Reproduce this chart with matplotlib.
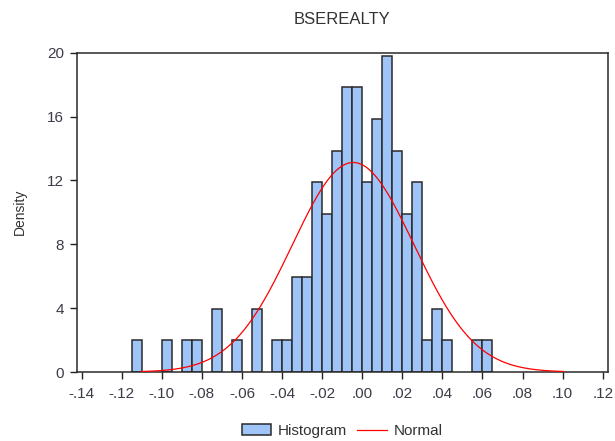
import matplotlib
matplotlib.use("Agg")
import matplotlib.pyplot as plt
import numpy as np
from matplotlib.ticker import FuncFormatter, FixedLocator
from matplotlib.patches import Patch
from matplotlib.lines import Line2D

plt.rcParams['font.family'] = ['Liberation Sans', 'DejaVu Sans']

# ---- data ----
title = "BSEREALTY"
bin_start = -0.115
bin_width = 0.005
counts = [1, 0, 0, 1, 0, 1, 1, 0, 2, 0, 1, 0, 2, 0, 1, 1,
          3, 3, 6, 5, 7, 9, 9, 6, 8, 10, 7, 5, 6, 1, 2, 1, 0, 0, 1, 1]
normal_mean = -0.0045
normal_sd = 0.0304
normal_range = [-0.110, 0.1005]
x_ticks = [-0.14, -0.12, -0.10, -0.08, -0.06, -0.04, -0.02, 0.00,
           0.02, 0.04, 0.06, 0.08, 0.10, 0.12]
y_ticks = [0, 4, 8, 12, 16, 20]

counts = np.array(counts, dtype=float)
n = counts.sum()
left_edges = bin_start + bin_width * np.arange(len(counts))
density = counts / (n * bin_width)

W, H = 615, 441
fig = plt.figure(figsize=(W / 100, H / 100), dpi=100)
ax = fig.add_axes([76.7 / W, 1 - 372 / H, (607.7 - 76.7) / W, (372 - 52.7) / H])

face = '#9ec4f8'
edge = '#2a2a2a'
mask = counts > 0
ax.bar(left_edges[mask], density[mask], width=bin_width, align='edge',
       color=face, edgecolor=edge, linewidth=1.1, zorder=2)

xs = np.linspace(normal_range[0], normal_range[1], 400)
ys = np.exp(-0.5 * ((xs - normal_mean) / normal_sd) ** 2) / (normal_sd * np.sqrt(2 * np.pi))
ax.plot(xs, ys, color='#ff0000', linewidth=0.9, zorder=3)

ax.set_xlim(-0.1425, 0.1225)
ax.set_ylim(0, 20)
ax.xaxis.set_major_locator(FixedLocator(x_ticks))
ax.yaxis.set_major_locator(FixedLocator(y_ticks))

def fmt(v, pos):
    s = f"{v:.2f}"
    if s.startswith("-0"):
        s = "-" + s[2:]
    elif s.startswith("0"):
        s = s[1:]
    return s

ax.xaxis.set_major_formatter(FuncFormatter(fmt))
tick_color = '#3f3a48'
ax.tick_params(axis='both', direction='out', length=5, width=1, color='#222222',
               labelsize=11, labelcolor=tick_color)
ax.tick_params(axis='x', pad=6)
ax.tick_params(axis='y', pad=4)
for s in ax.spines.values():
    s.set_color('#2a2a2a')
    s.set_linewidth(1.1)

fig.text(342 / W, 1 - 19 / H, title, ha='center', va='center',
         fontsize=12, color='#333333')
fig.text(20 / W, 1 - 212.3 / H, "Density", rotation=90, ha='center', va='center',
         fontsize=10, color='#333333')

handles = [Patch(facecolor=face, edgecolor=edge, linewidth=1.1),
           Line2D([0], [0], color='#ff0000', linewidth=0.9)]
fig.legend(handles, ["Histogram", "Normal"], loc='center',
           bbox_to_anchor=(342 / W, 1 - 431 / H), ncol=2, frameon=False,
           fontsize=11, handlelength=1.9, handletextpad=0.45, columnspacing=0.7,
           labelcolor='#333333')

fig.savefig("out.png", dpi=100)
